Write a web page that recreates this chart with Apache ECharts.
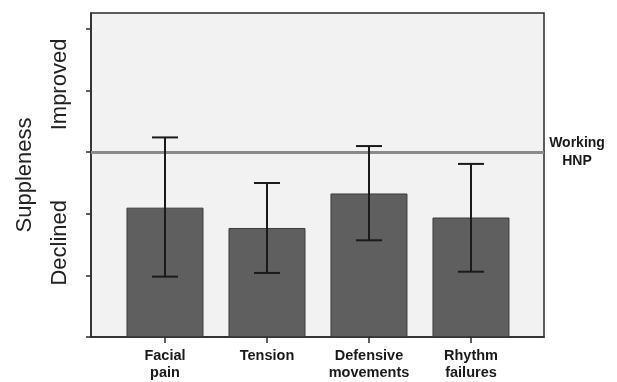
<!DOCTYPE html>
<html>
<head>
<meta charset="utf-8">
<script src="https://cdn.jsdelivr.net/npm/echarts@6/dist/echarts.min.js"></script>
<style>html,body{margin:0;padding:0;background:#fff}#c{width:617px;height:382px}</style>
</head>
<body>
<div id="c"></div>
<script>
const categories = ['Facial\npain', 'Tension', 'Defensive\nmovements', 'Rhythm\nfailures'];
const means = [2.1, 1.77, 2.33, 1.94];
const lowerCI = [0.98, 1.04, 1.57, 1.06];
const upperCI = [3.24, 2.5, 3.1, 2.81];
const referenceValue = 3;
const referenceLabel = 'Working\nHNP';
const yTicks = [0, 1, 2, 3, 4, 5];
const sideLabelValues = [1.53, 4.1];
const sideLabels = ['Declined', 'Improved'];
const yTitle = 'Suppleness';

const font = '"Liberation Sans", Arial, Helvetica, sans-serif';
const idx = categories.map((_, i) => i);

const chart = echarts.init(document.getElementById('c'), null, {renderer: 'canvas'});
chart.setOption({
  animation: false,
  backgroundColor: '#ffffff',
  grid: {
    left: 91, right: 73, top: 13, bottom: 45,
    show: true, backgroundColor: '#f2f2f2', borderColor: '#2a2a2a', borderWidth: 1.5
  },
  xAxis: {
    type: 'value',
    min: -0.7255, max: 3.716,
    splitLine: {show: false},
    axisLine: {show: true, onZero: false, lineStyle: {color: '#2a2a2a', width: 1.5}},
    axisTick: {show: true, customValues: idx, length: 6, lineStyle: {color: '#2a2a2a', width: 1.5}},
    axisLabel: {
      customValues: idx,
      formatter: v => categories[Math.round(v)],
      fontFamily: font, fontWeight: 'bold', fontSize: 14.5, color: '#1a1a1a',
      lineHeight: 17, margin: 10
    }
  },
  yAxis: [{
    type: 'value',
    min: 0, max: 5.26,
    splitLine: {show: false},
    axisLine: {show: true, onZero: false, lineStyle: {color: '#2a2a2a', width: 1.5}},
    axisTick: {show: true, customValues: yTicks, length: 5, lineStyle: {color: '#2a2a2a', width: 1.5}},
    axisLabel: {show: false},
    name: yTitle, nameLocation: 'middle', nameRotate: 90, nameGap: 55,
    nameTextStyle: {fontFamily: font, fontSize: 22, color: '#222'}
  }, {
    type: 'value',
    min: 0, max: 5.26,
    position: 'left',
    splitLine: {show: false},
    axisLine: {show: false, onZero: false},
    axisTick: {show: false},
    axisLabel: {
      customValues: sideLabelValues,
      formatter: v => sideLabels[sideLabelValues.indexOf(v)],
      rotate: 90, margin: 20,
      fontFamily: font, fontSize: 22, color: '#222'
    }
  }],
  series: [{
    type: 'bar',
    data: means.map((v, i) => [i, v]),
    barWidth: 77,
    itemStyle: {color: '#5f5f5f', borderColor: '#3c3c3c', borderWidth: 1},
    markLine: {
      silent: true,
      symbol: ['none', 'none'],
      data: [{yAxis: referenceValue}],
      lineStyle: {color: '#8a8a8a', width: 3, type: 'solid'},
      label: {
        show: true, position: 'end', formatter: referenceLabel,
        align: 'center', distance: 33,
        fontFamily: font, fontWeight: 'bold', fontSize: 14, lineHeight: 18, color: '#1a1a1a'
      }
    }
  }, {
    type: 'custom',
    data: idx.map(i => [i, lowerCI[i], upperCI[i]]),
    renderItem: function (params, api) {
      const x = api.value(0);
      const top = api.coord([x, api.value(2)]);
      const bot = api.coord([x, api.value(1)]);
      const hw = 13;
      const st = {stroke: '#1a1a1a', lineWidth: 2};
      return {
        type: 'group',
        children: [
          {type: 'line', shape: {x1: top[0], y1: top[1], x2: bot[0], y2: bot[1]}, style: st},
          {type: 'line', shape: {x1: top[0] - hw, y1: top[1], x2: top[0] + hw, y2: top[1]}, style: st},
          {type: 'line', shape: {x1: bot[0] - hw, y1: bot[1], x2: bot[0] + hw, y2: bot[1]}, style: st}
        ]
      };
    },
    z: 5
  }]
});
</script>
</body>
</html>
